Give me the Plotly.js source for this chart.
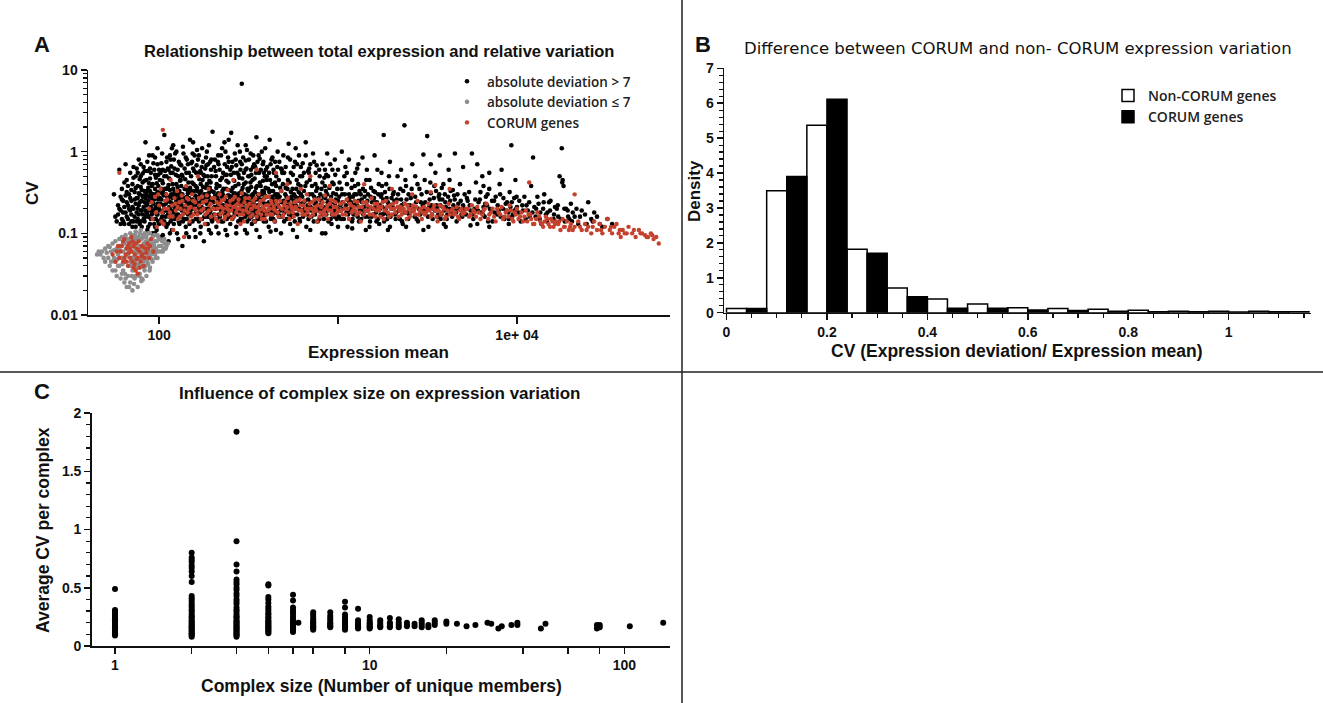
<!DOCTYPE html>
<html>
<head>
<meta charset="utf-8">
<script src="https://cdn.plot.ly/plotly-3.0.1.min.js"></script>
<style>html,body{margin:0;padding:0;background:#fff;}#chart{width:1323px;height:703px;}</style>
</head>
<body>
<div id="chart"></div>
<script>
// ---------- Panel A: expression mean vs CV ----------
const blackPts = [
[56,.3],[57,.16],[58,.14],[59,.22],[60,.6],[60,.2],[61,.13],[61,.28],[62,.15],[62,.35],[63,.25],[63,.18],[64,.13],[64,.42],[65,.7],[65,.18],[66,.45],[66,.24],[67,.22],[67,.15],[68,.13],[68,.3],[69,.55],[69,.19],[70,.17],[70,.25],[71,.4],[71,.12],[72,.14],[72,.2],[73,.32],[73,.26],[74,.12],[74,.5],[75,.18],[75,.27],[76,.15],[76,.38],[77,.22],[77,.8],[78,.13],[78,.3],[79,.19],[79,.5],[80,.25],[80,.12],[81,.42],[81,.17],[82,.65],[82,.21],[83,.14],[83,.33],[84,.27],[84,1.3],[85,.18],[85,.45],[86,.11],[86,.23],[87,.36],[87,.16],[88,.9],[88,.28],[89,.2],[89,.13],[90,.55],[90,.31],[91,.17],[91,.24],[92,.4],[92,.1],[93,.19],[93,.72],[94,.26],[94,.15],[95,.35],[95,.12],[96,.21],[96,.48],[97,.29],[97,.17],[98,1.1],[98,.23],[99,.14],[99,.38],[100,.2],[100,.6],
[74,.36],[78,.46],[82,.29],[86,.33],[90,.21],[94,.6],[98,.32],[80,.34],[84,.19],[88,.41],[92,.28],[96,.15],[76,.27],[70,.34],[66,.32],
[59,.17],[61,.19],[62,.26],[63,.14],[64,.21],[65,.29],[66,.16],[67,.38],[68,.2],[69,.27],[70,.14],[71,.21],[72,.48],[73,.16],[74,.23],[75,.62],[75,.14],[76,.2],[77,.31],[77,.17],[78,.24],[79,.14],[79,.37],[80,.19],[81,.28],[81,.54],[82,.15],[83,.24],[83,.44],[84,.16],[85,.3],[85,.22],[86,.58],[86,.17],[87,.25],[87,.12],[88,.19],[89,.33],[89,.47],[90,.15],[91,.38],[91,.27],[92,.18],[93,.3],[93,.23],[94,.13],[95,.2],[95,.85],[96,.3],[97,.41],[97,.11],[98,.17],[99,.26],[99,.52],[100,.31],[100,.13],
[101,.27],[102,.09],[103,.35],[104,.16],[104,.44],[105,.33],[106,.13],[106,.22],[107,1.6],[108,.19],[108,.58],[109,.3],[110,.12],[110,.24],[111,.85],[112,.17],[112,.36],[113,.08],[114,.21],[114,.47],[115,.28],[116,.14],[117,.66],[118,.23],[118,.11],[119,.4],[120,.18],[120,1.2],[121,.29],[122,.32],[122,.15],[123,.21],[124,.52],[124,.2],[125,.26],[126,.1],[127,.37],[128,.17],[129,.75],[130,.22],[130,.13],[131,.44],[132,.3],[132,.45],[133,.25],[134,.19],[135,.07],[136,.25],[137,.95],[138,.15],[139,.35],[140,.21],[141,.12],[142,.55],[143,.28],[144,.34],[145,.17],[146,.42],[147,.09],[148,.24],[149,1.4],[150,.19],[151,.5],[152,.31],[153,.23],[154,.14],[155,.62],[156,.4],[157,.22],[158,.11],[159,.29],[160,.38],[161,.18],[162,.24],[163,.27],[164,.33],[165,.8],[166,.15],[167,.2],[168,.46],[169,.21],[170,.58],[171,.12],[172,.33],[173,.27],[174,1.1],[175,.19],[176,.37],[177,.26],[178,.08],[179,.16],[180,.5],[181,.3],[182,.16],[183,.36],[184,.68],[185,.23],[186,.28],[187,.13],[188,.7],[189,.2],[190,.28],[191,.44],[192,.18],[193,.25],[194,.42],[195,.1],[196,.33],[197,.24],[198,.14],[199,1.75],[200,.15],
[105,.6],[115,.9],[125,1.0],[135,.5],[145,.7],[155,1.3],[165,.55],[175,.45],[185,1.0],[195,.6],[110,.35],[130,.27],[150,.34],[170,.24],[190,.17],
[101,.19],[101,.45],[102,.23],[103,.15],[103,.26],[104,.31],[105,.18],[105,.41],[106,.29],[107,.2],[107,.14],[108,.35],[109,.16],[109,.23],[110,.5],[111,.19],[111,.28],[112,.13],[113,.25],[113,.39],[114,.16],[115,.2],[115,.34],[116,.24],[116,.55],[117,.18],[117,.3],[118,.15],[119,.22],[119,.27],[120,.35],[121,.13],[121,.19],[122,.62],[123,.28],[123,.16],[124,.24],[125,.4],[126,.21],[126,.17],[127,.3],[128,.23],[128,.5],[129,.14],[130,.33],[131,.2],[131,.26],[133,.16],[133,.38],[134,.22],[135,.3],[136,.14],[137,.2],[138,.27],[139,.18],[140,.46],[141,.25],[142,.2],[143,.15],[144,.23],[145,.31],[146,.19],[147,.27],[148,.13],[149,.36],[150,.22],[152,.17],[153,.42],[154,.26],[156,.2],[157,.33],[158,.24],[160,.15],[161,.55],[162,.19],[163,.36],[164,.22],[166,.28],[167,.14],[169,.31],[170,.18],[171,.4],[173,.21],[174,.15],[176,.24],[177,.52],[179,.3],[180,.2],[182,.27],[183,.13],[185,.4],[186,.2],[188,.16],[189,.31],[191,.23],[192,.36],[194,.19],[196,.15],[197,.5],[199,.26],
[103,.72],[113,.6],[121,.8],[133,.68],[141,.85],[153,.75],[163,1.05],[173,.65],[183,.85],[193,.75],[118,1.1],[158,.9],
[202,.32],[204,.21],[205,.2],[207,.58],[209,.12],[210,.4],[212,.27],[214,.9],[215,.25],[216,.17],[218,.38],[220,.22],[221,.3],[223,.14],[225,.48],[226,.2],[227,.3],[229,.35],[230,.19],[232,1.3],[233,.26],[235,.11],[237,.25],[238,.44],[240,.65],[242,.29],[243,.18],[245,.34],[246,.22],[248,.21],[250,.13],[252,.52],[253,1.7],[255,.24],[256,.28],[258,.36],[260,.16],[262,.2],[263,.44],[265,.31],[266,.22],[268,.8],[270,.12],[272,.26],[273,.55],[275,.17],[276,.19],[278,.4],[280,.31],[282,.23],[284,.75],[285,.15],[287,.14],[289,.33],[290,.25],[290,6.8],[292,.47],[294,.2],[296,.28],[298,.4],[300,.18],[302,.11],[304,.6],[306,.27],[308,.21],[310,1.05],[312,.35],[314,.17],[316,.24],[318,.35],[320,.15],[322,.23],[324,.42],[326,.6],[328,.29],[330,.13],[332,.19],[334,.3],[336,.9],[338,.18],[340,.25],[342,.47],[344,.14],[346,.21],[348,.36],[350,1.5],[352,.2],[355,.15],[357,.3],[360,.26],[362,.55],[365,.09],[367,.19],[370,.38],[372,.24],[375,.2],[378,.33],[380,.7],[382,.16],[385,.14],[388,.27],[390,.29],[392,1.1],[395,.17],[398,.45],[400,.5],
[215,.7],[235,1.0],[255,.65],[275,1.2],[295,.85],[315,.5],[335,.65],[355,.75],[375,1.0],[395,.6],
[201,.24],[203,.17],[206,.29],[208,.2],[209,.36],[211,.15],[213,.22],[214,.31],[217,.24],[219,.16],[220,.45],[222,.19],[224,.28],[226,.33],[228,.14],[229,.22],[231,.27],[233,.17],[234,.52],[236,.21],[237,.35],[239,.15],[241,.24],[242,.19],[244,.42],[246,.29],[247,.16],[249,.26],[251,.2],[254,.33],[257,.15],[259,.23],[261,.3],[264,.18],[267,.38],[269,.25],[271,.2],[274,.29],[277,.14],[279,.23],[281,.48],[283,.18],[286,.27],[288,.21],[291,.15],[293,.36],[295,.23],[297,.18],[299,.3],[301,.25],[303,.16],[305,.42],[307,.19],[309,.29],[311,.14],[313,.24],[315,.33],[317,.2],[319,.5],[321,.17],[323,.27],[325,.21],[327,.37],[329,.16],[331,.24],[333,.45],[335,.19],[337,.28],[339,.14],[341,.22],[343,.32],[345,.17],[347,.26],[349,.2],[353,.38],[356,.22],[358,.16],[361,.29],[363,.2],[366,.42],[368,.26],[371,.15],[373,.3],[376,.18],[379,.24],[381,.44],[383,.2],[386,.32],[389,.17],[391,.23],[394,.36],[396,.14],[399,.28],
[205,.8],[225,1.1],[245,.75],[265,.95],[285,.6],[305,.78],[325,.95],[345,.65],[365,.82],[385,.55],[245,1.4],[305,1.2],
[405,.23],[410,.12],[413,.32],[415,1.4],[418,.2],[420,.33],[423,.16],[425,.19],[428,.4],[430,.85],[433,.26],[435,.15],[438,.55],[440,.25],[443,.18],[445,.42],[448,.3],[450,.11],[453,.22],[455,.21],[458,.65],[460,.3],[465,.17],[470,.16],[475,.36],[480,.62],[485,.24],[490,.24],[495,.9],[500,.14],[505,.2],[510,.36],[515,.28],[520,.19],[525,.45],[530,1.25],[535,.22],[540,.13],[545,.32],[550,.28],[555,.18],[560,.52],[565,.25],[570,.17],[575,.75],[580,.22],[585,.35],[590,.09],[595,.2],[600,.4],[605,.27],[610,.15],[615,.5],[620,.3],[628,.19],[635,.72],[642,.24],[650,.2],[657,.38],[665,.12],[672,.17],[680,.26],[687,.55],[695,.45],[702,.21],[710,.16],[718,.3],[725,.95],[732,.14],[740,.23],[748,.4],[755,.33],[762,.19],[770,.14],[778,.27],[785,.6],[792,.22],[800,.19],[808,.35],[815,.1],[822,.17],[830,.28],[838,.48],[845,.38],[852,.21],[860,.17],[870,.3],[880,.5],[890,.25],[900,.22],[910,.15],[920,.13],[930,.42],[940,.31],[950,.19],[960,.8],[970,.26],[980,.18],[990,.35],[1000,.25],
[420,.7],[460,1.0],[500,.55],[540,.8],[580,1.1],[620,.65],[660,.9],[700,.7],[750,.55],[820,.7],[870,.95],[930,.6],[660,1.3],
[403,.18],[407,.35],[411,.24],[414,.2],[417,.45],[421,.15],[424,.28],[427,.22],[431,.17],[434,.33],[437,.2],[441,.29],[444,.14],[447,.24],[451,.38],[454,.18],[457,.27],[462,.22],[467,.45],[472,.28],[477,.19],[482,.33],[487,.16],[492,.4],[497,.25],[502,.18],[507,.3],[512,.22],[517,.15],[522,.35],[527,.25],[532,.17],[537,.42],[542,.2],[547,.27],[552,.16],[557,.35],[562,.22],[567,.3],[573,.14],[578,.28],[583,.2],[588,.45],[593,.17],[598,.25],[603,.32],[608,.2],[613,.14],[618,.38],[624,.23],[631,.28],[638,.16],[645,.33],[653,.25],[660,.18],[668,.42],[676,.22],[684,.15],[692,.3],[700,.24],[707,.19],[715,.38],[722,.2],[736,.28],[744,.17],[752,.24],[766,.36],[774,.2],[788,.15],[796,.3],[804,.25],[818,.42],[826,.2],[834,.15],[848,.27],[856,.33],[865,.19],[875,.24],[885,.14],[895,.36],[905,.2],[915,.28],[925,.17],[935,.24],[945,.4],[955,.16],[965,.22],[975,.3],[985,.15],[995,.2],
[445,.75],[485,.6],[525,.85],[565,.65],[605,.9],[645,.55],[690,.62],[735,.75],[790,.5],[845,.6],[905,.7],[965,.52],
[1010,.16],[1020,.42],[1030,.22],[1040,.15],[1055,.3],[1070,.2],[1085,.5],[1100,.65],[1115,.18],[1130,.12],[1145,.25],[1160,.27],[1175,.2],[1190,.36],[1205,.15],[1220,.17],[1235,.3],[1250,.55],[1265,.23],[1280,.22],[1295,.4],[1310,.14],[1325,.19],[1340,.3],[1355,.26],[1370,.85],[1385,.17],[1400,.19],[1415,.33],[1430,.11],[1445,.22],[1460,.25],[1480,.16],[1500,.45],[1520,.28],[1540,.16],[1560,.2],[1580,.33],[1600,.24],[1620,.21],[1640,.14],[1660,.6],[1680,.3],[1700,.13],[1720,.2],[1740,.28],[1760,.38],[1780,.17],[1800,1.6],[1820,.18],[1840,.25],[1860,.4],[1880,.15],[1900,.24],[1925,.5],[1950,.12],[1975,.22],[2000,.2],[2030,.3],[2050,.32],[2080,.17],[2100,.15],[2130,.26],[2150,.5],[2180,.21],[2200,.19],[2230,.35],[2250,.26],[2280,.14],[2300,.13],[2330,.23],[2350,2.1],[2380,.45],[2400,.38],[2430,.18],[2450,.22],[2480,.3],[2500,.17],[2550,.27],[2600,.7],[2650,.2],[2700,.28],[2750,.15],[2800,.14],[2850,.35],[2900,.24],[2950,.19],[3000,.92],
[1150,.8],[1300,.7],[1450,.6],[1600,.9],[1750,.55],[1950,.75],[2250,.6],[2700,.5],[1050,1.0],[1200,.45],
[1015,.28],[1025,.19],[1045,.35],[1062,.24],[1078,.15],[1092,.3],[1108,.22],[1122,.4],[1138,.17],[1152,.3],[1168,.19],[1182,.24],[1198,.14],[1212,.28],[1228,.22],[1242,.38],[1258,.17],[1272,.3],[1288,.16],[1302,.25],[1318,.33],[1332,.2],[1348,.15],[1362,.24],[1378,.35],[1392,.21],[1408,.28],[1422,.16],[1438,.45],[1452,.19],[1470,.3],[1490,.21],[1510,.14],[1530,.36],[1550,.24],[1570,.17],[1590,.27],[1610,.32],[1630,.18],[1650,.24],[1670,.15],[1690,.4],[1710,.22],[1730,.17],[1750,.3],[1770,.21],[1790,.26],[1810,.14],[1830,.32],[1850,.2],[1870,.27],[1890,.17],[1915,.22],[1940,.35],[1965,.16],[1990,.27],[2020,.21],[2065,.25],[2115,.18],[2165,.3],[2215,.15],[2265,.22],[2315,.33],[2365,.18],[2415,.26],[2465,.15],[2520,.22],[2580,.35],[2630,.19],[2680,.16],[2730,.24],[2780,.4],[2830,.2],[2880,.17],[2930,.3],[2980,.22],
[3050,.45],[3100,.19],[3150,1.55],[3200,.12],[3250,.26],[3300,.31],[3350,.17],[3400,.2],[3450,.38],[3500,.55],[3550,.22],[3600,.16],[3650,.28],[3700,.26],[3750,.15],[3800,.36],[3850,.21],[3900,.13],[3950,.3],[4000,.21],[4080,.17],[4150,.6],[4230,.25],[4300,.18],[4380,.34],[4450,.29],[4530,.2],[4600,.14],[4700,.23],[4800,.4],[4900,.17],[5000,.22],[5100,.3],[5200,.17],[5300,.25],[5400,.32],[5500,.19],[5600,.95],[5700,.15],[5800,.2],[5900,.42],[6000,.13],[6100,.24],[6200,.26],[6300,.18],[6400,.5],[6500,.21],[6600,.16],[6700,.28],[6800,.22],[6900,.14],[7000,.35],[7150,.19],[7300,.14],[7450,.25],[7600,.28],[7750,.17],[7900,.19],[8050,.3],[8200,.6],[8350,.2],[8500,.15],[8650,.23],[8800,.24],[8950,.18],[9100,.32],[9200,.21],[9300,1.2],[9400,.16],[9500,.17],[9650,.27],[9800,.45],[9900,.2],[10000,.21],
[3300,.7],[3700,.9],[4200,.45],[5000,.65],[6000,.7],[7000,.55],[8000,.4],[4500,.95],[6500,.38],
[3070,.24],[3130,.32],[3180,.16],[3230,.21],[3280,.42],[3330,.22],[3380,.15],[3430,.27],[3480,.19],[3530,.33],[3580,.2],[3630,.17],[3680,.3],[3730,.22],[3780,.17],[3830,.26],[3880,.4],[3930,.19],[3980,.24],[4050,.15],[4120,.28],[4190,.2],[4260,.33],[4340,.16],[4410,.22],[4490,.26],[4570,.18],[4650,.3],[4750,.2],[4850,.25],[4950,.16],[5050,.2],[5250,.27],[5450,.22],[5650,.17],[5850,.26],[6050,.19],[6250,.32],[6450,.17],[6650,.23],[6850,.3],[7050,.2],[7250,.25],[7500,.18],[7800,.22],[8100,.16],[8400,.27],[8700,.19],[9000,.15],[9350,.24],[9700,.19],[9950,.28],
[10300,.25],[10500,.14],[10800,.19],[11000,.28],[11300,.22],[11500,.19],[11800,.16],[12000,.38],[12300,.85],[12500,.21],[12700,.16],[13000,.28],[13200,.23],[13500,.18],[13700,.13],[14000,.2],[14200,.3],[14500,.17],[14800,.18],[15100,.24],[15400,.25],[15700,.15],[16000,.15],[16300,.21],[16700,.2],[17000,.16],[17300,.5],[17800,1.1],[17900,.42],[18000,.45],[18200,.38],[18500,.14],[18800,.2],[19200,.19],[19600,.15],[20000,.23],[20500,.18],[21000,.16],[22000,.13],[23000,.19],[24000,.17],[25000,.24],[26000,.15],[26500,.14],[28000,.16],[29000,.13],[30000,.12],[32000,.15],[34000,.13],
[10200,.18],[10700,.22],[11200,.15],[11700,.24],[12200,.18],[12800,.2],[13400,.15],[14100,.24],[14700,.14],[15300,.19],[16100,.17],[16900,.22],[17600,.15],[18400,.2],[19300,.16],[20300,.14],[21500,.2],[22500,.16],[24500,.13],[27000,.18],
[72,.65],[76,.55],[79,.7],[83,.58],[86,.75],[89,.62],[92,.9],[95,.52],[98,.7],[102,.55],[104,.95],[107,.5],[110,.75],[112,.62],[116,.8],[119,.55],[123,.95],[127,.6],[131,.7],[134,.52],[136,1.15],[139,.62],[143,.8],[147,.55],[151,.72],[154,.95],[157,.58],[162,.68],[167,.9],[171,.55],[176,.75],[181,.62],[187,.5],[190,1.2],[196,.8],[203,.65],[208,.5],[213,.75],[218,.6],[222,.9],[228,.55],[233,.7],[239,.52],[243,.85],[250,.6],[257,.75],[262,.55],[270,.68],[278,.52],[283,1.0],[290,.7],[298,.55],[308,.62],[318,.8],[328,.52],[340,.7],[348,.55],[360,.9],[370,.6],[383,.75],[390,.5],[402,.65],[412,.55],[425,.8],[436,.6],[452,.5],[470,.75],[488,.55],[510,.65],[545,.55],[590,.7],[630,.5],[680,.58],[760,.68],[860,.52],[1000,.6],[1120,.55],[1280,.62],
[95,.1],[105,.095],[115,.1],[128,.085],[142,.1],[160,.09],[170,.1],[190,.11],[215,.1],[240,.095],[270,.1],[310,.1],[350,.11],[420,.105],[480,.1],[560,.11],[700,.11],[850,.1],[1000,.12],[1200,.115],[1500,.12],[1900,.11],[2400,.12],[3000,.11],[4000,.12],[5500,.125],[7000,.12],[9000,.13]
];
const grayPts = [
[47,.055],[48,.06],[49,.05],[50,.065],[50,.045],[52,.07],[52,.05],[53,.04],[54,.06],[55,.075],[55,.035],[56,.05],[57,.08],[57,.045],[58,.03],[58,.065],[59,.055],[60,.085],[60,.04],[61,.028],[61,.07],[62,.05],[62,.09],[63,.035],[63,.06],[64,.025],[64,.075],[65,.045],[65,.095],[66,.022],[66,.055],[67,.03],[67,.08],[68,.065],[68,.04],[69,.1],[69,.025],[70,.05],[70,.07],[71,.02],[71,.035],[72,.085],[72,.06],[73,.045],[73,.028],[74,.105],[74,.055],[75,.038],[75,.075],[76,.022],[76,.065],[77,.09],[77,.048],[78,.032],[78,.07],[79,.11],[79,.055],[80,.04],[80,.085],[81,.027],[81,.06],[82,.075],[82,.045],[83,.1],[83,.035],[84,.065],[84,.05],[85,.09],[85,.03],[86,.055],[87,.08],[87,.042],[88,.07],[89,.1],[89,.05],[90,.06],[91,.085],[92,.045],[93,.075],[94,.095],[95,.055],[96,.065],[97,.08],[98,.05],[99,.09],[100,.07],[102,.06],[104,.08],[106,.065],[108,.075],[110,.07],
[58.5,.048],[62.5,.042],[66.5,.068],[70.5,.03],[74.5,.085],[78.5,.06],[82.5,.038],[86.5,.072],[90.5,.055],[67.5,.058],[71.5,.078],[75.5,.05],[79.5,.026],[83.5,.058],[88.5,.035],[92.5,.065],[60.5,.062],[64.5,.032],[68.5,.085],[72.5,.024],[76.5,.042],[80.5,.07],[84.5,.08],[73.5,.095],[69.5,.045],[65.5,.065],[61.5,.05],[77.5,.03],[81.5,.095],[85.5,.062],
[45,.055],[46,.06],[51,.058],[53,.068],[54,.045],[56,.062],[57,.035],[59,.04],[60,.07],[62,.032],[63,.075],[64,.045],[65,.028],[66,.085],[67,.052],[68,.022],[69,.075],[70,.04],[71,.095],[72,.05],[73,.068],[74,.03],[75,.058],[76,.08],[77,.038],[78,.1],[79,.068],[80,.028],[81,.048],[82,.09],[83,.065],[84,.04],[85,.075],[86,.045],[87,.1],[88,.058],[89,.038],[90,.075],[91,.048],[92,.09],[93,.058],[94,.07],[95,.08],[96,.05],[97,.06],[98,.095],[99,.06],[101,.085],[103,.07],[105,.06],[107,.085],[109,.065],[112,.075]
];
const redPts = [
[55,.055],[58,.06],[60,.05],[62,.07],[63,.045],[65,.055],[66,.065],[67,.04],[68,.075],[69,.05],[70,.06],[71,.045],[72,.07],[73,.055],[74,.035],[75,.065],[76,.05],[77,.08],[78,.06],[79,.045],[80,.07],[81,.055],[82,.04],[84,.065],[86,.075],[88,.05],[90,.085],[93,.06],[64,.085],[70,.09],[76,.032],[72,.038],[68,.058],
[57,.045],[59,.07],[61,.06],[63,.08],[64,.05],[66,.045],[67,.07],[69,.065],[71,.08],[73,.042],[74,.075],[75,.048],[77,.062],[78,.038],[80,.052],[82,.068],[83,.05],[85,.058],[87,.065],[89,.07],
[60,.55],[105,1.85],
[88,.2],[92,.15],[95,.28],[97,.12],[100,.22],[102,.35],[104,.18],[106,.13],[108,.25],[110,.3],[112,.2],[114,.16],[116,.45],[118,.22],[120,.11],[122,.27],[124,.19],[126,.33],[128,.15],[130,.24],[132,.2],[134,.29],[136,.17],[138,.09],[140,.22],[142,.38],[144,.18],[146,.26],[148,.14],[150,.21],[153,.3],[156,.17],[159,.24],[162,.19],[165,.5],[168,.22],[171,.15],[174,.28],[177,.2],[180,.13],[183,.25],[186,.18],[189,.35],[192,.22],[195,.16],[198,.27],
[91,.24],[96,.18],[99,.3],[103,.14],[107,.2],[111,.26],[115,.18],[119,.16],[123,.23],[127,.21],[131,.16],[135,.25],[139,.19],[143,.27],[147,.2],[151,.16],[155,.25],[158,.2],[164,.17],[167,.27],[172,.19],[176,.24],[181,.17],[185,.29],[190,.19],[194,.23],[199,.2],
[202,.2],[206,.17],[210,.24],[214,.14],[218,.3],[222,.21],[226,.18],[230,.26],[234,.16],[238,.22],[242,.34],[246,.19],[250,.25],[255,.15],[260,.21],[265,.28],[270,.18],[275,.23],[280,.2],[285,.13],[290,.31],[295,.17],[300,.24],[306,.19],[312,.22],[318,.27],[324,.16],[330,.2],[336,.25],[342,.14],[348,.21],[354,.18],[360,.3],[366,.23],[372,.17],[378,.2],[384,.26],[390,.15],[396,.22],[402,.19],[410,.28],[418,.17],[426,.23],[434,.2],[442,.14],[450,.25],[460,.18],[470,.21],[480,.33],[490,.16],[500,.22],[512,.19],[524,.27],[536,.15],[548,.21],[560,.18],[572,.24],[584,.2],[596,.13],[610,.26],[625,.19],[640,.22],[655,.17],[670,.3],[685,.2],[700,.16],[716,.24],[732,.19],[748,.21],[764,.14],[780,.26],[796,.18],[812,.22],[828,.17],[844,.29],[860,.2],[880,.15],[900,.23],[920,.19],[940,.25],[960,.17],[980,.21],[1000,.19],
[204,.27],[208,.15],[212,.2],[216,.23],[220,.17],[224,.25],[228,.2],[232,.15],[236,.28],[240,.2],[244,.17],[248,.22],[253,.19],[258,.26],[263,.16],[268,.22],[273,.2],[278,.26],[283,.17],[288,.22],[293,.19],[298,.14],[303,.27],[309,.21],[315,.18],[321,.23],[327,.2],[333,.17],[339,.22],[345,.27],[351,.16],[357,.21],[363,.19],[369,.25],[375,.15],[381,.21],[387,.19],[393,.28],[399,.17],[406,.22],[414,.2],[422,.25],[430,.17],[438,.21],[446,.19],[455,.23],[465,.16],[475,.25],[485,.2],[495,.17],[506,.24],[518,.21],[530,.18],[542,.23],[554,.2],[566,.16],[578,.21],[590,.25],[603,.19],[617,.22],[632,.17],[647,.25],[662,.2],[677,.18],[692,.23],[708,.2],[724,.17],[740,.26],[756,.19],[772,.22],[788,.16],[804,.21],[820,.24],[836,.19],[852,.17],[870,.22],[890,.19],[910,.26],[930,.17],[950,.21],[970,.24],[990,.18],
[260,.45],[350,.6],[520,.4],[700,.5],[900,.38],[450,.55],[620,.35],
[1030,.23],[1060,.17],[1090,.2],[1120,.26],[1150,.15],[1180,.22],[1210,.19],[1240,.25],[1270,.17],[1300,.21],[1340,.14],[1380,.24],[1420,.19],[1460,.22],[1500,.17],[1540,.27],[1580,.2],[1620,.16],[1660,.23],[1700,.19],[1750,.21],[1800,.15],[1850,.25],[1900,.18],[1950,.22],[2000,.17],[2060,.2],[2120,.24],[2180,.16],[2240,.21],[2300,.19],[2360,.23],[2420,.15],[2480,.2],[2550,.18],[2620,.22],[2700,.17],[2780,.25],[2860,.19],[2940,.15],[3020,.21],[3100,.18],[3200,.23],[3300,.16],[3400,.2],[3500,.19],[3600,.14],[3700,.22],[3800,.18],[3900,.2],[4000,.16],[4150,.23],[4300,.19],[4450,.17],[4600,.21],[4750,.15],[4900,.2],[5000,.18],
[1045,.19],[1075,.24],[1105,.17],[1135,.2],[1165,.23],[1195,.18],[1225,.21],[1255,.19],[1285,.24],[1320,.18],[1360,.21],[1400,.17],[1440,.24],[1480,.19],[1520,.21],[1560,.17],[1600,.23],[1640,.19],[1680,.21],[1725,.16],[1775,.24],[1825,.19],[1875,.21],[1925,.16],[1975,.2],[2030,.23],[2090,.18],[2150,.21],[2210,.19],[2270,.17],[2330,.2],[2390,.18],[2450,.22],[2520,.16],[2590,.2],[2660,.19],[2740,.21],[2820,.17],[2900,.2],[2980,.18],[3060,.17],[3150,.2],[3250,.19],[3350,.17],[3450,.22],[3550,.16],[3650,.19],[3750,.17],[3850,.21],[3950,.15],[4080,.19],[4220,.17],[4380,.2],[4520,.18],[4680,.16],[4820,.19],[4960,.17],
[1400,.4],[2000,.35],[2600,.3],[3300,.32],[4200,.35],[3500,.39],
[5200,.2],[5400,.16],[5600,.22],[5800,.18],[6000,.21],[6250,.15],[6500,.19],[6750,.23],[7000,.17],[7300,.2],[7600,.14],[7900,.18],[8200,.21],[8500,.16],[8800,.19],[9100,.22],[9400,.15],[9700,.18],[10000,.2],[10400,.16],[10800,.14],[11200,.19],[11700,.42],[11600,.17],[12000,.15],[12500,.13],[13000,.18],[13500,.14],[14000,.12],[14500,.16],[15000,.13],[15500,.15],[16000,.12],[16500,.14],[17000,.13],[17500,.11],[18000,.15],[18500,.12],[19000,.14],[19500,.11],[20000,.13],
[5100,.18],[5300,.2],[5500,.17],[5700,.19],[5900,.16],[6100,.18],[6400,.17],[6600,.2],[6900,.15],[7150,.18],[7450,.16],[7750,.2],[8050,.17],[8350,.15],[8650,.18],[8950,.16],[9250,.19],[9550,.14],[9850,.17],
[10200,.15],[10600,.18],[11000,.16],[11400,.14],[11900,.17],[12300,.13],[12800,.15],[13300,.16],[13800,.13],[14300,.14],[14800,.15],[15300,.12],[15800,.14],[16300,.13],[17200,.14],[18300,.12],[19800,.12],
[21000,.3],[21000,.12],[22000,.14],[23000,.11],[24000,.13],[25000,.12],[26000,.1],[27000,.14],[28000,.11],[29000,.13],[30000,.1],[31000,.12],[32000,.15],[33000,.11],[34000,.1],[35000,.12],[36000,.13],[37000,.1],[38000,.09],[39000,.11],[40000,.1],[42000,.12],[44000,.1],[46000,.09],[48000,.11],[50000,.1],[52000,.095],[54000,.09],[56000,.1],[58000,.085],[60000,.09],[62000,.075],
[20500,.11],[22500,.12],[24500,.11],[26500,.12],[29500,.11],[33500,.12],[37500,.11],[41000,.1],[45000,.11],[49000,.1],[53000,.09],[57000,.095]
];

// ---------- Panel B: density histogram (bin centres, width 0.04) ----------
const nonCorumBins = [0.02,0.10,0.18,0.26,0.34,0.42,0.50,0.58,0.66,0.74,0.82,0.90,0.98,1.06,1.14];
const nonCorumDensity = [0.12,3.49,5.37,1.82,0.71,0.39,0.25,0.14,0.12,0.10,0.07,0.04,0.04,0.04,0.03];
const corumBins = [0.06,0.14,0.22,0.30,0.38,0.46,0.54,0.62,0.70,0.78,0.86,0.94,1.02,1.10];
const corumDensity = [0.12,3.90,6.11,1.70,0.46,0.13,0.13,0.08,0.06,0.04,0.03,0.03,0.02,0.03];

// ---------- Panel C: complex size vs average CV ----------
const complexGroups = [
[1,[.49,.31,.3,.29,.28,.27,.26,.25,.24,.23,.22,.21,.2,.19,.18,.17,.16,.15,.14,.12,.11,.1,.09]],
[2,[.8,.76,.74,.72,.69,.67,.64,.6,.55,.43,.41,.39,.37,.35,.33,.31,.3,.28,.26,.25,.24,.22,.21,.2,.19,.18,.17,.16,.15,.14,.13,.12,.11,.1,.09,.08]],
[3,[1.84,.9,.7,.64,.57,.55,.53,.5,.48,.45,.43,.4,.38,.36,.33,.31,.3,.28,.26,.25,.24,.22,.21,.2,.19,.18,.17,.16,.15,.14,.13,.12,.11,.1,.09,.08]],
[4,[.53,.52,.42,.4,.37,.34,.32,.3,.28,.27,.25,.24,.22,.21,.2,.19,.18,.17,.16,.15,.14,.13,.12,.11]],
[5,[.44,.39,.33,.31,.29,.27,.25,.23,.22,.2,.19,.18,.17,.16,.15,.14,.13,.12]],
[5.25,[.2]],
[6,[.29,.27,.25,.23,.21,.2,.19,.18,.17,.16,.15,.14]],
[7,[.29,.26,.24,.22,.2,.19,.18,.17,.16]],
[8,[.38,.33,.27,.25,.23,.21,.2,.19,.18,.17,.16,.15,.14]],
[9,[.32,.22,.2,.19,.18,.17,.16,.15]],
[10,[.25,.22,.2,.19,.18,.17,.16,.15]],
[11,[.22,.2,.18,.17,.16]],
[12,[.24,.2,.19,.17,.16]],
[13,[.23,.2,.18,.16]],
[14,[.2,.18,.17]],
[15,[.19,.17]],
[16,[.22,.2,.18,.16]],
[17,[.18,.16]],
[18,[.22,.2,.18]],
[20,[.21,.19]],[22,[.19]],[24,[.17]],[26,[.18]],[29,[.2]],[30,[.19]],[32,[.15]],[33,[.17]],[36,[.18]],[38,[.2,.18]],
[47,[.15]],[49,[.19]],[78,[.18,.15]],[80,[.18,.16]],[105,[.17]],[142,[.2]]
];
const complexSize = [], avgCV = [];
complexGroups.forEach(g => g[1].forEach(v => { complexSize.push(g[0]); avgCV.push(v); }));

// ---------- layout helpers ----------
const W = 1323, H = 703;
const fx = p => p / W, fy = p => 1 - p / H;
const ink = '#111';
const tickFont = {family: 'Liberation Sans, Arial, sans-serif', size: 14, color: ink, weight: 'bold'};
const axisBase = {showline: true, linecolor: ink, linewidth: 1.5, ticks: 'outside', tickcolor: ink,
  tickwidth: 1.5, ticklen: 6, showgrid: false, zeroline: false, tickfont: tickFont, fixedrange: true};

const traces = [
  {type: 'scatter', mode: 'markers', name: 'absolute deviation > 7', legend: 'legend',
   x: blackPts.map(p => p[0]), y: blackPts.map(p => p[1]), xaxis: 'x', yaxis: 'y',
   marker: {color: '#000', size: 4.6, line: {width: 0}}},
  {type: 'scatter', mode: 'markers', name: 'absolute deviation \u2264 7', legend: 'legend',
   x: grayPts.map(p => p[0]), y: grayPts.map(p => p[1]), xaxis: 'x', yaxis: 'y',
   marker: {color: '#8d8d8d', size: 4.6, line: {width: 0}}},
  {type: 'scatter', mode: 'markers', name: 'CORUM genes', legend: 'legend',
   x: redPts.map(p => p[0]), y: redPts.map(p => p[1]), xaxis: 'x', yaxis: 'y',
   marker: {color: '#c4422d', size: 4.4, line: {width: 0}}},
  {type: 'bar', name: 'Non-CORUM genes', legend: 'legend2', x: nonCorumBins, y: nonCorumDensity,
   width: 0.04, xaxis: 'x2', yaxis: 'y2', marker: {color: '#fff', line: {color: '#000', width: 1.5}}},
  {type: 'bar', name: 'CORUM genes', legend: 'legend2', x: corumBins, y: corumDensity,
   width: 0.04, xaxis: 'x2', yaxis: 'y2', marker: {color: '#000', line: {color: '#000', width: 1.5}}},
  {type: 'scatter', mode: 'markers', showlegend: false, x: complexSize, y: avgCV, xaxis: 'x3', yaxis: 'y3',
   marker: {color: '#000', size: 6, line: {width: 0}}}
];

const minorLog = [0.02,0.03,0.04,0.05,0.06,0.07,0.08,0.09,0.2,0.3,0.4,0.5,0.6,0.7,0.8,0.9,2,3,4,5,6,7,8,9];

function ann(text, x, y, font, extra) {
  return Object.assign({text: text, x: fx(x), y: fy(y), xref: 'paper', yref: 'paper', showarrow: false,
    xanchor: 'center', yanchor: 'middle', font: font}, extra || {});
}
const boldFont = (s) => ({family: 'Liberation Sans, Arial, sans-serif', size: s, color: ink, weight: 'bold'});

const layout = {
  width: W, height: H, margin: {l: 0, r: 0, t: 0, b: 0},
  paper_bgcolor: '#fff', plot_bgcolor: 'rgba(0,0,0,0)', barmode: 'overlay',
  xaxis: Object.assign({}, axisBase, {domain: [fx(88), fx(670)], anchor: 'y', type: 'log', range: [1.603, 4.855],
    tickmode: 'array', tickvals: [100, 1000, 10000], ticktext: ['100', '', '1e+ 04'], ticklen: 7}),
  yaxis: Object.assign({}, axisBase, {domain: [fy(315), fy(70)], anchor: 'x', type: 'log', range: [-2, 1],
    tickmode: 'array', tickvals: [0.01, 0.1, 1, 10], ticktext: ['0.01', '0.1', '1', '10'],
    minor: {tickmode: 'array', tickvals: minorLog, ticks: 'outside', ticklen: 4, tickcolor: ink, tickwidth: 1.2}}),
  xaxis2: Object.assign({}, axisBase, {domain: [fx(724), fx(1311)], anchor: 'y2', range: [-0.005, 1.164],
    tick0: 0, dtick: 0.2, minor: {tick0: 0, dtick: 0.05, ticks: 'outside', ticklen: 4, tickcolor: ink, tickwidth: 1.2}}),
  yaxis2: Object.assign({}, axisBase, {domain: [fy(312.7), fy(68.3)], anchor: 'x2', range: [0, 7],
    tick0: 0, dtick: 1, minor: {tick0: 0, dtick: 0.2, ticks: 'outside', ticklen: 4, tickcolor: ink, tickwidth: 1.2}}),
  xaxis3: Object.assign({}, axisBase, {domain: [fx(91.7), fx(670)], anchor: 'y3', type: 'log', range: [-0.0915, 2.179],
    tickmode: 'array', tickvals: [1,2,3,4,5,6,8,10,20,40,60,80,100],
    ticktext: ['1','','','','','','','10','','','','','100']}),
  yaxis3: Object.assign({}, axisBase, {domain: [fy(646), fy(413)], anchor: 'x3', range: [0, 2],
    tickmode: 'array', tickvals: [0, 0.5, 1, 1.5, 2], ticktext: ['0', '0.5', '1', '1.5', '2'],
    minor: {tick0: 0, dtick: 0.1, ticks: 'outside', ticklen: 4, tickcolor: ink, tickwidth: 1.2}}),
  legend: {x: fx(447), y: fy(66), xanchor: 'left', yanchor: 'top', bgcolor: 'rgba(0,0,0,0)',
    font: {family: 'Open Sans, sans-serif', size: 13.5, color: '#222', weight: 600}, tracegroupgap: 0, itemclick: false},
  legend2: {x: fx(1108), y: fy(80), xanchor: 'left', yanchor: 'top', bgcolor: 'rgba(0,0,0,0)',
    font: {family: 'Open Sans, sans-serif', size: 14, color: '#222', weight: 600}, tracegroupgap: 0, itemclick: false},
  shapes: [
    {type: 'line', xref: 'paper', yref: 'paper', x0: fx(682), x1: fx(682), y0: 0, y1: 1, line: {color: '#222', width: 1.5}},
    {type: 'line', xref: 'paper', yref: 'paper', x0: 0, x1: 1, y0: fy(372), y1: fy(372), line: {color: '#222', width: 1.5}}
  ],
  annotations: [
    ann('A', 42, 45, boldFont(22)),
    ann('B', 703, 45, boldFont(22)),
    ann('C', 42, 391, boldFont(22)),
    ann('Relationship between total expression and relative variation', 379, 51, boldFont(16.5)),
    ann('Difference between CORUM and non- CORUM expression variation', 1018, 48,
        {family: 'DejaVu Sans, sans-serif', size: 16.5, color: ink}),
    ann('Influence of complex size on expression variation', 380, 393, boldFont(17)),
    ann('CV', 33, 193, boldFont(17), {textangle: -90}),
    ann('Expression mean', 378, 352, boldFont(17)),
    ann('Density', 694, 191, boldFont(17), {textangle: -90}),
    ann('CV (Expression deviation/ Expression mean)', 1017, 351, boldFont(17.5)),
    ann('Average CV per complex', 43, 530, boldFont(17.5), {textangle: -90}),
    ann('Complex size (Number of unique members)', 381, 686, boldFont(17.5))
  ]
};

Plotly.newPlot('chart', traces, layout, {displayModeBar: false, staticPlot: true});
</script>
</body>
</html>
